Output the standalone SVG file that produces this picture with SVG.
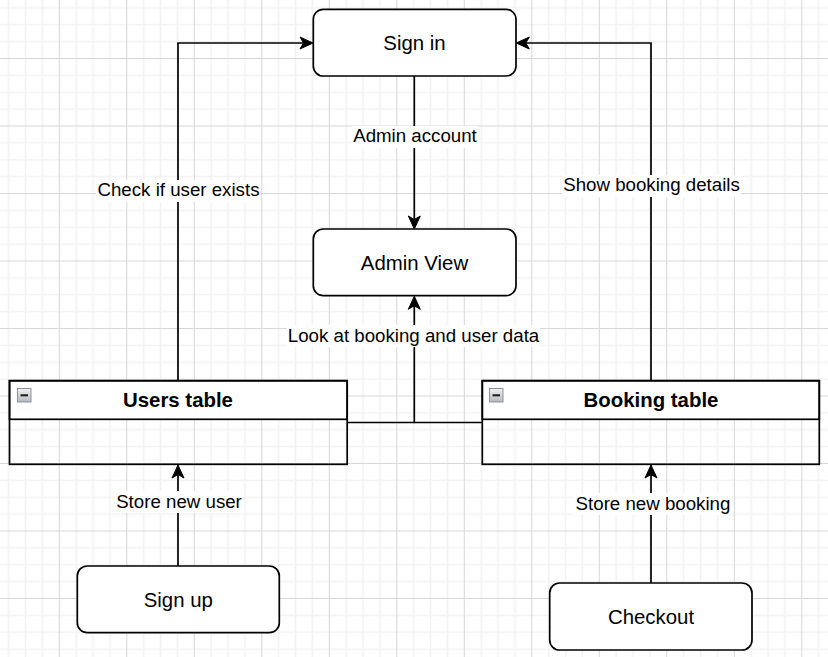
<svg xmlns="http://www.w3.org/2000/svg" width="828" height="657" viewBox="0 0 828 657">
  <defs>
    <pattern id="grid" patternUnits="userSpaceOnUse" x="-8.7" y="-9.5" width="67.5" height="67.5">
      <path d="M17.375 0V67.5M34.25 0V67.5M51.125 0V67.5M0 17.375H67.5M0 34.25H67.5M0 51.125H67.5" stroke="#f2f2f2" stroke-width="1.6" fill="none"/>
      <path d="M0.5 0V67.5M0 0.5H67.5" stroke="#d6d6d6" stroke-width="1" fill="none"/>
    </pattern>
    <linearGradient id="minusGrad" x1="0" y1="0" x2="0" y2="1">
      <stop offset="0" stop-color="#f2f2f2"/>
      <stop offset="1" stop-color="#b4b7bd"/>
    </linearGradient>
    <marker id="arrow" markerUnits="userSpaceOnUse" markerWidth="14" markerHeight="14" refX="3.5" refY="6.5" orient="auto" overflow="visible">
      <path d="M0,0.5 L13,6.5 L0,12.5 L3.5,6.5 Z" fill="#000" stroke="#000" stroke-width="1" stroke-linejoin="miter"/>
    </marker>
    <style>
      .node { fill: #fff; stroke: #000; stroke-width: 1.7; }
      .tbl { fill: none; stroke: #000; stroke-width: 1.7; }
      .hdr { fill: #fff; stroke: #000; stroke-width: 1.7; }
      .ntext { font-family: "Liberation Sans", Arial, sans-serif; font-size: 20.4px; fill: #000; text-anchor: middle; }
      .htext { font-family: "Liberation Sans", Arial, sans-serif; font-size: 20.4px; font-weight: bold; fill: #000; text-anchor: middle; }
      .ltext { font-family: "Liberation Sans", Arial, sans-serif; font-size: 18.7px; fill: #000; text-anchor: middle; }
      .edge { fill: none; stroke: #000; stroke-width: 1.7; }
      .lbg { fill: #fff; }
      .mbox { fill: url(#minusGrad); stroke: #8d939e; stroke-width: 1; }
      .mline { stroke: #1a1a1a; stroke-width: 2; }
    </style>
  </defs>

  <rect x="0" y="0" width="828" height="657" fill="#fff"/>
  <rect x="0" y="0" width="828" height="657" fill="url(#grid)"/>

  <g id="connectors">
    <path class="edge" d="M178,380.5 V43 H303.5" marker-end="url(#arrow)"/>
    <path class="edge" d="M651,380.5 V43 H525.8" marker-end="url(#arrow)"/>
    <path class="edge" d="M414.3,76 V219.5" marker-end="url(#arrow)"/>
    <path class="edge" d="M347,422.5 H414.3 V305.8" marker-end="url(#arrow)"/>
    <path class="edge" d="M482,422.5 H414.3"/>
    <path class="edge" d="M178,566 V474.5" marker-end="url(#arrow)"/>
    <path class="edge" d="M651,583 V474.5" marker-end="url(#arrow)"/>

    <rect class="lbg" x="96" y="180" width="165" height="22"/>
    <text class="ltext" x="178.5" y="196">Check if user exists</text>
    <rect class="lbg" x="562" y="175" width="179" height="22"/>
    <text class="ltext" x="651.5" y="191">Show booking details</text>
    <rect class="lbg" x="352" y="126" width="126" height="22"/>
    <text class="ltext" x="415" y="142">Admin account</text>
    <rect class="lbg" x="287" y="325" width="253" height="22"/>
    <text class="ltext" x="413.5" y="342">Look at booking and user data</text>
    <rect class="lbg" x="115" y="491" width="128" height="22"/>
    <text class="ltext" x="179" y="507.5">Store new user</text>
    <rect class="lbg" x="574" y="493" width="158" height="22"/>
    <text class="ltext" x="653" y="510">Store new booking</text>
  </g>

  <g id="sign-in">
    <rect class="node" x="313.3" y="9.3" width="202.7" height="66.7" rx="10" ry="10"/>
    <text class="ntext" x="414.5" y="50">Sign in</text>
  </g>

  <g id="admin-view">
    <rect class="node" x="313.3" y="229" width="202.7" height="66.7" rx="10" ry="10"/>
    <text class="ntext" x="414.5" y="269.5">Admin View</text>
  </g>

  <g id="users-table">
    <rect class="hdr" x="9.5" y="380.7" width="337.7" height="38.6"/>
    <rect class="tbl" x="9.5" y="380.7" width="337.7" height="83.6"/>
    <rect class="mbox" x="17.5" y="388.5" width="13.5" height="13.5"/>
    <line class="mline" x1="20.5" y1="395.3" x2="28" y2="395.3"/>
    <text class="htext" x="178" y="407">Users table</text>
  </g>

  <g id="booking-table">
    <rect class="hdr" x="482.3" y="380.7" width="337" height="38.6"/>
    <rect class="tbl" x="482.3" y="380.7" width="337" height="83.6"/>
    <rect class="mbox" x="489.5" y="388.5" width="13.5" height="13.5"/>
    <line class="mline" x1="492.5" y1="395.3" x2="500" y2="395.3"/>
    <text class="htext" x="651" y="407">Booking table</text>
  </g>

  <g id="sign-up">
    <rect class="node" x="77.3" y="566" width="202" height="66.7" rx="10" ry="10"/>
    <text class="ntext" x="178.3" y="606.5">Sign up</text>
  </g>

  <g id="checkout">
    <rect class="node" x="549.7" y="583" width="202.3" height="67" rx="10" ry="10"/>
    <text class="ntext" x="651" y="624">Checkout</text>
  </g>
</svg>
